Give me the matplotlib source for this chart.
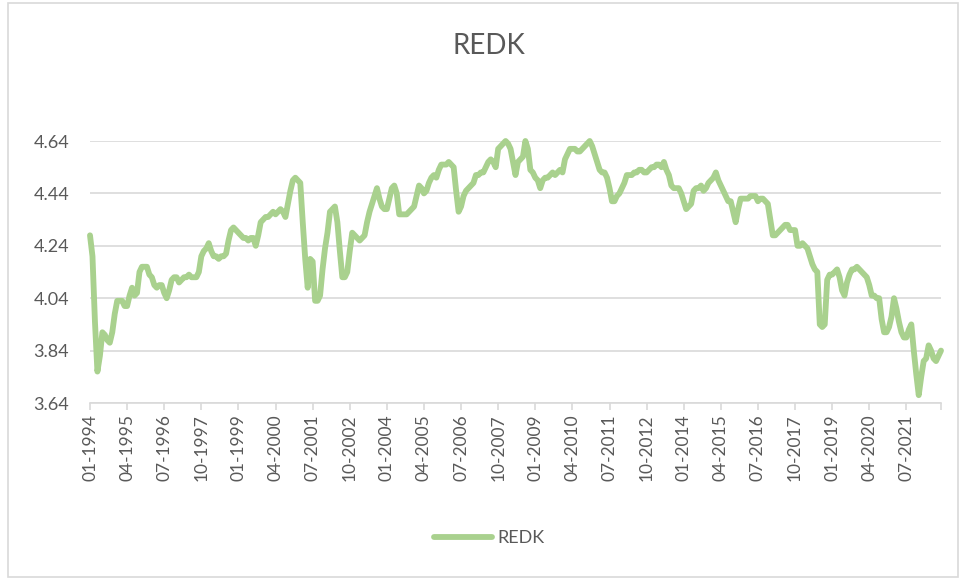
import numpy as np
import pandas as pd
import matplotlib
matplotlib.use('Agg')
import matplotlib.pyplot as plt
from matplotlib.patches import Rectangle

# monthly REDK, Jan 1994 .. Sep 2022
y1994 = [4.28, 4.20, 3.95, 3.76, 3.82, 3.91, 3.90, 3.88, 3.87, 3.91, 3.98, 4.03]
y1995 = [4.03, 4.03, 4.01, 4.01, 4.05, 4.08, 4.05, 4.06, 4.14, 4.16, 4.16, 4.16]
y1996 = [4.13, 4.12, 4.09, 4.08, 4.09, 4.09, 4.06, 4.04, 4.07, 4.11, 4.12, 4.12]
y1997 = [4.10, 4.11, 4.12, 4.12, 4.13, 4.12, 4.12, 4.12, 4.14, 4.20, 4.22, 4.23]
y1998 = [4.25, 4.22, 4.20, 4.20, 4.19, 4.20, 4.20, 4.21, 4.26, 4.30, 4.31, 4.30]
y1999 = [4.29, 4.28, 4.27, 4.27, 4.26, 4.27, 4.27, 4.24, 4.28, 4.33, 4.34, 4.35]
y2000 = [4.35, 4.36, 4.37, 4.36, 4.37, 4.38, 4.37, 4.35, 4.40, 4.45, 4.49, 4.50]
y2001 = [4.49, 4.48, 4.33, 4.19, 4.08, 4.19, 4.18, 4.03, 4.03, 4.05, 4.15, 4.23]
y2002 = [4.29, 4.37, 4.38, 4.39, 4.33, 4.22, 4.12, 4.12, 4.14, 4.22, 4.29, 4.28]
y2003 = [4.27, 4.26, 4.27, 4.28, 4.33, 4.37, 4.40, 4.43, 4.46, 4.42, 4.39, 4.38]
y2004 = [4.38, 4.42, 4.46, 4.47, 4.44, 4.36, 4.36, 4.36, 4.36, 4.37, 4.38, 4.39]
y2005 = [4.43, 4.47, 4.46, 4.44, 4.45, 4.48, 4.50, 4.51, 4.50, 4.53, 4.55, 4.55]
y2006 = [4.55, 4.56, 4.55, 4.54, 4.45, 4.37, 4.39, 4.43, 4.45, 4.46, 4.47, 4.48]
y2007 = [4.51, 4.51, 4.52, 4.52, 4.54, 4.56, 4.57, 4.56, 4.54, 4.61, 4.62, 4.63]
y2008 = [4.64, 4.63, 4.61, 4.56, 4.51, 4.56, 4.57, 4.58, 4.64, 4.61, 4.53, 4.52]
y2009 = [4.50, 4.49, 4.46, 4.49, 4.50, 4.50, 4.51, 4.52, 4.51, 4.52, 4.53, 4.52]
y2010 = [4.57, 4.59, 4.61, 4.61, 4.61, 4.60, 4.60, 4.61, 4.62, 4.63, 4.64, 4.62]
y2011 = [4.59, 4.56, 4.53, 4.52, 4.52, 4.50, 4.46, 4.41, 4.41, 4.43, 4.44, 4.46]
y2012 = [4.48, 4.51, 4.51, 4.51, 4.52, 4.52, 4.53, 4.53, 4.52, 4.52, 4.53, 4.54]
y2013 = [4.54, 4.55, 4.55, 4.54, 4.56, 4.53, 4.51, 4.47, 4.46, 4.46, 4.46, 4.44]
y2014 = [4.41, 4.38, 4.39, 4.40, 4.45, 4.46, 4.46, 4.47, 4.45, 4.46, 4.48, 4.49]
y2015 = [4.50, 4.52, 4.49, 4.47, 4.45, 4.43, 4.41, 4.41, 4.37, 4.33, 4.38, 4.42]
y2016 = [4.42, 4.42, 4.42, 4.43, 4.43, 4.43, 4.41, 4.42, 4.42, 4.41, 4.40, 4.34]
y2017 = [4.28, 4.28, 4.29, 4.30, 4.31, 4.32, 4.32, 4.30, 4.30, 4.30, 4.24, 4.24]
y2018 = [4.25, 4.24, 4.23, 4.20, 4.17, 4.15, 4.14, 3.94, 3.93, 3.94, 4.11, 4.13]
y2019 = [4.13, 4.14, 4.15, 4.12, 4.07, 4.05, 4.10, 4.13, 4.15, 4.15, 4.16, 4.15]
y2020 = [4.14, 4.13, 4.12, 4.09, 4.05, 4.05, 4.04, 4.04, 3.96, 3.91, 3.91, 3.93]
y2021 = [3.97, 4.04, 4.00, 3.95, 3.91, 3.89, 3.89, 3.92, 3.94, 3.84, 3.75, 3.67]
y2022 = [3.74, 3.80, 3.81, 3.86, 3.84, 3.81, 3.80, 3.82, 3.84]

redk = (y1994 + y1995 + y1996 + y1997 + y1998 + y1999 + y2000 + y2001 + y2002
        + y2003 + y2004 + y2005 + y2006 + y2007 + y2008 + y2009 + y2010 + y2011
        + y2012 + y2013 + y2014 + y2015 + y2016 + y2017 + y2018 + y2019 + y2020
        + y2021 + y2022)
months = pd.date_range('1994-01-01', periods=len(redk), freq='MS')
month_labels = [d.strftime('%m-%Y') for d in months]
yticks = [3.64, 3.84, 4.04, 4.24, 4.44, 4.64]

txt = '#595959'
grid = '#D9D9D9'
green = '#A9D18E'
plt.rcParams['font.family'] = ['Lato', 'DejaVu Sans']

fig = plt.figure(figsize=(9.6, 5.79), dpi=100)
ax = fig.add_axes([90/960, 1-403/579, (941-90)/960, (403-141)/579])

x = np.arange(len(redk))
ax.plot(x, redk, color=green, lw=4.2, solid_capstyle='round', solid_joinstyle='round',
        label='REDK', clip_on=False, zorder=3)

ax.set_xlim(0, len(redk)-1)
ax.set_ylim(3.64, 4.64)
ax.set_yticks(yticks)
ax.set_yticklabels(['%.2f' % v for v in yticks])
step = 15
ax.set_xticks(x[::step])
ax.set_xticklabels(month_labels[::step], rotation=90)
ax.set_xticks([len(redk)-1], minor=True)

ax.grid(axis='y', color=grid, lw=1.2, zorder=0)
for s in ['top', 'right', 'left']:
    ax.spines[s].set_visible(False)
ax.spines['bottom'].set_color(grid)
ax.spines['bottom'].set_linewidth(1.2)
ax.tick_params(axis='y', length=0, pad=15, labelsize=13, labelcolor=txt)
ax.tick_params(axis='x', which='both', length=5, width=1.2, color=grid, pad=3,
               labelsize=12.5, labelcolor=txt)

fig.text(0.509, 1-46/579, 'REDK', ha='center', va='center', fontsize=20, color=txt)
fig.legend(loc='center', bbox_to_anchor=(0.51, 1-538/579), frameon=False,
           fontsize=13, labelcolor=txt, handlelength=3.2, handletextpad=0.3)

fig.patches.append(Rectangle((8/960, 2/579), 950/960, 574/579, transform=fig.transFigure,
                             fill=False, edgecolor=grid, lw=1.2))

fig.savefig('out.png', dpi=100, facecolor='white')
